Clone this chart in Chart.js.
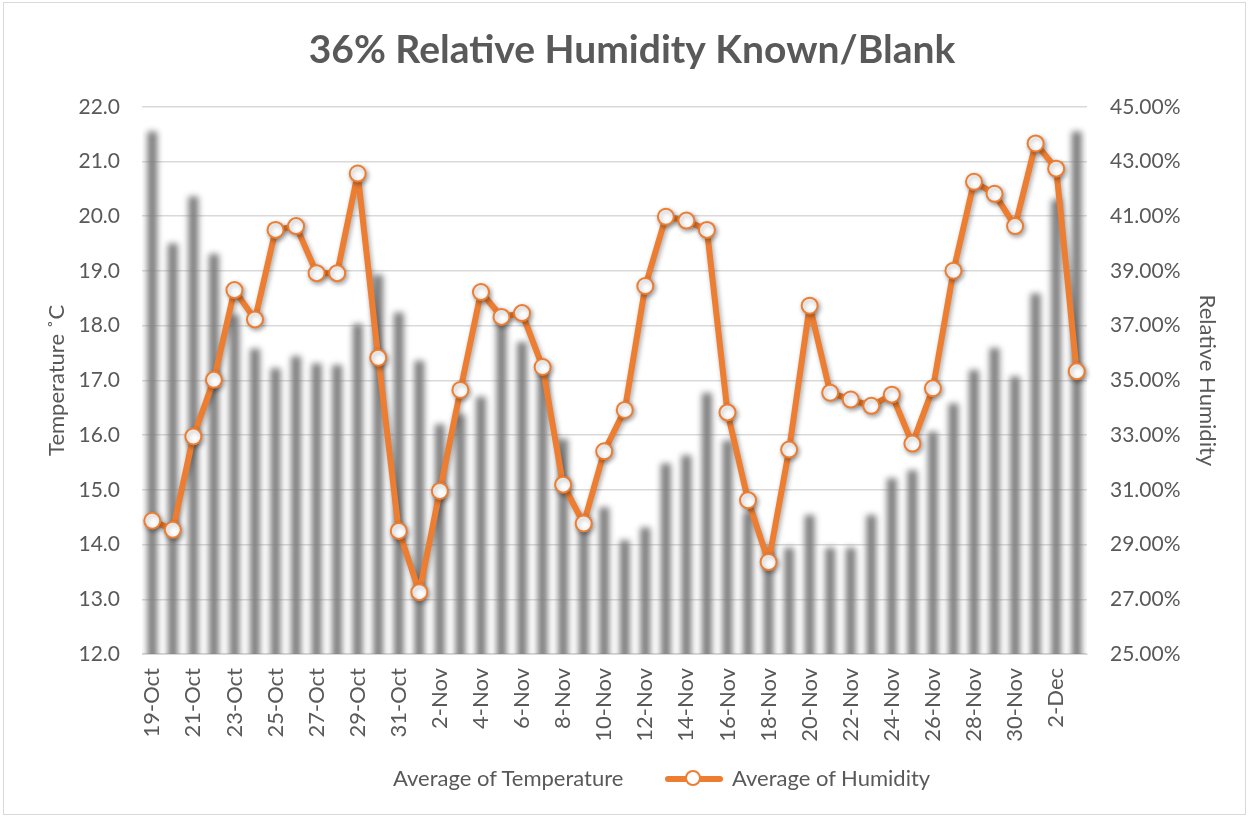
<!DOCTYPE html>
<html>
<head>
<meta charset="utf-8">
<script src="https://cdn.jsdelivr.net/npm/chart.js@4.4.1/dist/chart.umd.min.js"></script>
<style>
  html, body { margin: 0; padding: 0; background: #fff; }
  #wrap { position: relative; width: 1249px; height: 817px; }
  #frame { position: absolute; left: 3px; top: 2px; width: 1241px; height: 811px; border: 1px solid #d9d9d9; pointer-events: none; }
  #legend { position: absolute; top: 763px; left: 0; width: 1249px; height: 30px; font: 22px Lato, sans-serif; color: #595959; }
  #legend span { position: absolute; top: 1px; white-space: nowrap; }
  .swatch { position: absolute; top: 13px; width: 58px; height: 6px; background: #ed7d31; border-radius: 3px; }
  .swatch i { position: absolute; left: 20px; top: -6px; width: 16px; height: 16px; box-sizing: border-box; border: 2px solid #ed7d31; border-radius: 50%; background: #fff; }
</style>
</head>
<body>
<div id="wrap">
  <canvas id="chart" width="1249" height="817"></canvas>
  <div id="frame"></div>
  <div id="legend">
    <span style="left:393px">Average of Temperature</span>
    <div class="swatch" style="left:665px"><i></i></div>
    <span style="left:732px">Average of Humidity</span>
  </div>
</div>
<script>
// data
const days = [
  '19-Oct','20-Oct','21-Oct','22-Oct','23-Oct','24-Oct','25-Oct','26-Oct','27-Oct','28-Oct','29-Oct','30-Oct','31-Oct',
  '1-Nov','2-Nov','3-Nov','4-Nov','5-Nov','6-Nov','7-Nov','8-Nov','9-Nov','10-Nov','11-Nov','12-Nov','13-Nov','14-Nov','15-Nov',
  '16-Nov','17-Nov','18-Nov','19-Nov','20-Nov','21-Nov','22-Nov','23-Nov','24-Nov','25-Nov','26-Nov','27-Nov','28-Nov','29-Nov','30-Nov',
  '1-Dec','2-Dec','3-Dec'
];
const temperature = [
  21.55, 19.5, 20.36, 19.31, 18.2, 17.58, 17.22, 17.44, 17.31, 17.28, 18.03, 18.93, 18.24,
  17.36, 16.2, 16.38, 16.7, 18.1, 17.7, 17.2, 15.93, 14.5, 14.68, 14.08, 14.31, 15.48, 15.63, 16.77,
  15.9, 14.6, 13.94, 13.94, 14.54, 13.94, 13.94, 14.54, 15.21, 15.36, 16.06, 16.58, 17.19, 17.59, 17.07,
  18.59, 20.3, 21.55
];
const humidity = [
  29.87, 29.54, 32.95, 35.02, 38.30, 37.23, 40.50, 40.64, 38.92, 38.92, 42.56, 35.83, 29.50,
  27.26, 30.96, 34.65, 38.23, 37.32, 37.46, 35.49, 31.19, 29.77, 32.41, 33.92, 38.45, 40.98, 40.84, 40.50,
  33.83, 30.62, 28.36, 32.47, 37.73, 34.55, 34.30, 34.07, 34.48, 32.69, 34.71, 39.01, 42.26, 41.82, 40.64,
  43.66, 42.74, 35.33
];
const tempRange = [12, 22];
const humRange = [25, 45];

const textColor = '#595959';
const font = 'Lato, sans-serif';

// soft-focus bars and a drop shadow on the line, like the Excel effects
const effects = {
  id: 'effects',
  beforeDatasetDraw(chart, args) {
    const ctx = chart.ctx;
    ctx.save();
    if (args.index === 0) {
      ctx.filter = 'blur(3px)';
    } else {
      ctx.shadowColor = 'rgba(0,0,0,0.35)';
      ctx.shadowBlur = 5;
      ctx.shadowOffsetX = 1.5;
      ctx.shadowOffsetY = 2;
    }
  },
  afterDatasetDraw(chart) {
    chart.ctx.restore();
  }
};

new Chart(document.getElementById('chart'), {
  data: {
    labels: days,
    datasets: [
      {
        type: 'bar',
        label: 'Average of Temperature',
        data: temperature,
        yAxisID: 'yT',
        backgroundColor: '#7c7c7c',
        barPercentage: 0.48,
        categoryPercentage: 1,
        order: 2
      },
      {
        type: 'line',
        label: 'Average of Humidity',
        data: humidity,
        yAxisID: 'yH',
        borderColor: '#ed7d31',
        borderWidth: 6,
        borderJoinStyle: 'round',
        borderCapStyle: 'round',
        pointRadius: 8,
        pointBorderWidth: 2,
        pointBackgroundColor: '#fff',
        pointBorderColor: '#ed7d31',
        tension: 0,
        order: 1
      }
    ]
  },
  options: {
    responsive: false,
    animation: false,
    layout: { padding: { left: 40, right: 25, top: 0, bottom: 0 } },
    plugins: {
      legend: { display: false },
      tooltip: { enabled: false },
      title: {
        display: true,
        text: '36% Relative Humidity Known/Blank',
        color: textColor,
        font: { family: font, size: 39, weight: 'bold' },
        padding: { top: 27, bottom: 33 }
      }
    },
    scales: {
      x: {
        grid: { display: false },
        border: { color: '#d9d9d9' },
        ticks: {
          color: textColor,
          font: { family: font, size: 22 },
          autoSkip: false,
          maxRotation: 90,
          minRotation: 90,
          padding: 6,
          callback: (v, i) => (i % 2 === 0 ? days[i] : '')
        },
        afterFit: s => { s.height = 163; }
      },
      yT: {
        position: 'left',
        min: tempRange[0],
        max: tempRange[1],
        border: { display: false },
        grid: {
          drawTicks: false,
          lineWidth: 1.5,
          color: c => (c.tick && c.tick.value % 1 === 0 ? '#d9d9d9' : '#efefef')
        },
        ticks: {
          stepSize: 0.5,
          color: textColor,
          padding: 22,
          font: { family: font, size: 21 },
          callback: v => (v % 1 === 0 ? v.toFixed(1) : '')
        },
        title: {
          display: true,
          text: 'Temperature ˚C',
          color: textColor,
          font: { family: font, size: 22 }
        },
        afterFit: s => { s.width = 102; }
      },
      yH: {
        position: 'right',
        min: humRange[0],
        max: humRange[1],
        border: { display: false },
        grid: { drawOnChartArea: false, drawTicks: false },
        ticks: {
          stepSize: 2,
          color: textColor,
          padding: 23,
          font: { family: font, size: 21 },
          callback: v => v.toFixed(2) + '%'
        },
        title: {
          display: true,
          text: 'Relative Humidity',
          color: textColor,
          font: { family: font, size: 22 }
        },
        afterFit: s => { s.width = 137; }
      }
    }
  },
  plugins: [effects]
});
</script>
</body>
</html>
